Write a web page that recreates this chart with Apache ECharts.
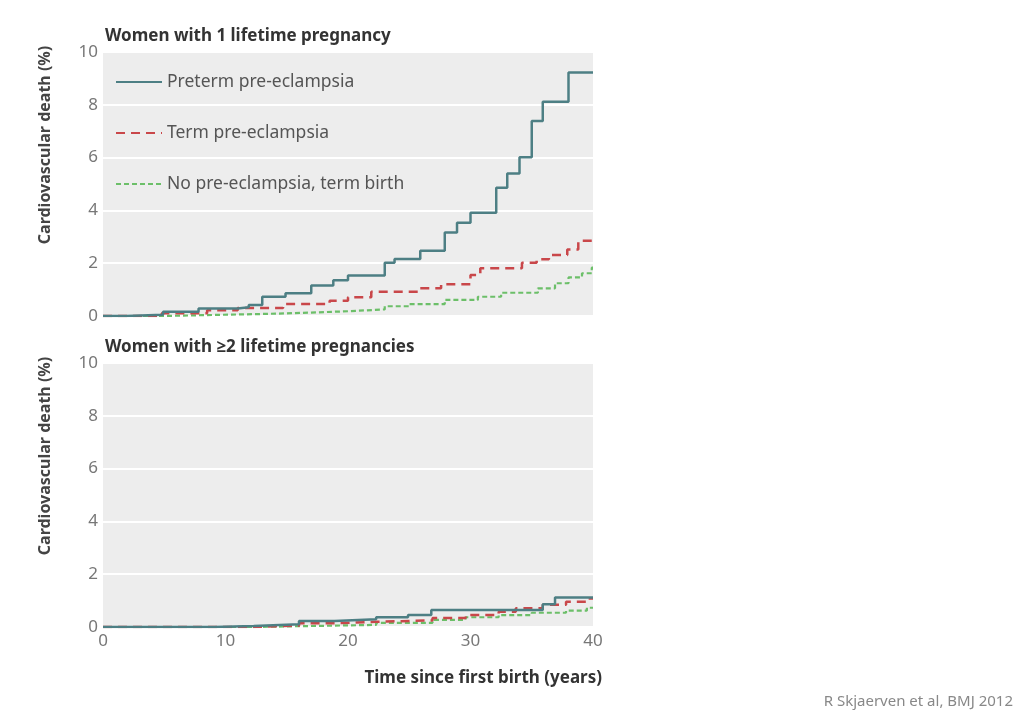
<!DOCTYPE html>
<html>
<head>
<meta charset="utf-8">
<script src="https://cdn.jsdelivr.net/npm/echarts@6/dist/echarts.min.js"></script>
<style>
  html, body { margin: 0; padding: 0; background: #fff; }
  #main { width: 1024px; height: 715px; }
</style>
</head>
<body>
<div id="main"></div>
<script>
// years since first birth on x, cumulative cardiovascular death (%) on y
let xTicks = [0, 10, 20, 30, 40];
let yTicks = [0, 2, 4, 6, 8, 10];
let seriesNames = ['Preterm pre-eclampsia', 'Term pre-eclampsia', 'No pre-eclampsia, term birth'];

// women with 1 lifetime pregnancy
let onePreterm = [[0, 0], [1.9, 0.05], [4.9, 0.16], [7.8, 0.28], [11, 0.33], [11.9, 0.42], [13, 0.73], [14.9, 0.86],
  [17, 1.16], [18.8, 1.35], [20, 1.53], [23, 2.02], [23.8, 2.16], [25.9, 2.47], [27.9, 3.16], [28.9, 3.53],
  [30, 3.91], [32.1, 4.86], [33, 5.4], [34, 6.01], [35, 7.39], [35.9, 8.12], [38, 9.22], [40, 9.22]];
let oneTerm = [[0, 0], [4.8, 0.1], [8.5, 0.22], [11, 0.3], [14.7, 0.45], [18.5, 0.58], [20, 0.71], [21.9, 0.92],
  [25.9, 1.05], [27.6, 1.2], [30, 1.55], [30.8, 1.81], [34.2, 2.02], [35.4, 2.15], [36.4, 2.31], [37.9, 2.52],
  [38.8, 2.85], [40, 2.85]];
let oneNone = [[0, 0], [5, 0.03], [8, 0.08], [13.4, 0.13], [17, 0.18], [20, 0.25], [23, 0.37], [25, 0.45],
  [27.9, 0.61], [30.6, 0.73], [32.5, 0.88], [35.5, 1.05], [36.9, 1.24], [38, 1.46], [39.1, 1.62], [39.9, 1.83], [40, 1.83]];

// women with >=2 lifetime pregnancies
let twoPreterm = [[0, 0], [9.1, 0.04], [12.3, 0.1], [16, 0.23], [18.9, 0.29], [22.3, 0.37], [24.9, 0.45],
  [26.8, 0.64], [35, 0.64], [35.9, 0.86], [36.9, 1.12], [40, 1.12]];
let twoTerm = [[0, 0], [12, 0.05], [16, 0.14], [18.8, 0.2], [22.3, 0.25], [26.9, 0.34], [29.6, 0.45],
  [32.3, 0.58], [33.7, 0.71], [35.9, 0.84], [37.8, 0.96], [39.5, 1.08], [40, 1.08]];
let twoNone = [[0, 0], [12, 0.03], [16, 0.08], [22.3, 0.16], [26.9, 0.27], [29.6, 0.37], [32.3, 0.45],
  [35, 0.54], [37.8, 0.62], [39.5, 0.73], [40, 0.75]];

let fontFam = '"Noto Sans", "Open Sans", sans-serif';
let colors = ['#4d7f84', '#c9474a', '#6cbf69'];
let lineStyles = [
  { width: 2.5, type: 'solid' },
  { width: 2.5, type: [9, 6] },
  { width: 2.2, type: [5, 3] }
];

function makeX(idx, showLabels) {
  return {
    type: 'value', gridIndex: idx, min: 0, max: 40, interval: 10,
    axisLine: { show: false }, axisTick: { show: false }, splitLine: { show: false },
    axisLabel: { show: showLabels, color: '#777', fontSize: 17, margin: 6, fontFamily: fontFam }
  };
}
function makeY(idx) {
  return {
    type: 'value', gridIndex: idx, min: 0, max: 10, interval: 2,
    axisLine: { show: false }, axisTick: { show: false },
    splitLine: { show: true, lineStyle: { color: '#ffffff', width: 2 } },
    axisLabel: { color: '#777', fontSize: 17, margin: 5, fontFamily: fontFam }
  };
}
function makeSeries(k, idx, data) {
  return {
    name: seriesNames[k], type: 'line', step: 'end', xAxisIndex: idx, yAxisIndex: idx,
    data: data, symbol: 'none', silent: true, z: 5 - k,
    lineStyle: Object.assign({ color: colors[k] }, lineStyles[k]),
    itemStyle: { color: colors[k] }
  };
}

window.addEventListener('load', function () {
  let chart = echarts.init(document.getElementById('main'));
  let option = {
    animation: false,
    backgroundColor: '#ffffff',
    textStyle: { fontFamily: fontFam },
    title: [
      { text: 'Women with 1 lifetime pregnancy', left: 100, top: 23,
        textStyle: { fontSize: 17, fontWeight: 'bold', color: '#333', fontFamily: fontFam } },
      { text: 'Women with \u22652 lifetime pregnancies', left: 100, top: 334,
        textStyle: { fontSize: 17, fontWeight: 'bold', color: '#333', fontFamily: fontFam } }
    ],
    legend: {
      orient: 'vertical', left: 110, top: 68, itemGap: 33,
      itemWidth: 46, itemHeight: 18,
      data: seriesNames,
      itemStyle: { opacity: 0 },
      textStyle: { color: '#555', fontSize: 17.5, fontFamily: fontFam }
    },
    grid: [
      { left: 103, width: 490, top: 52, height: 264, show: true, backgroundColor: '#ededed', borderWidth: 0 },
      { left: 103, width: 490, top: 363, height: 264, show: true, backgroundColor: '#ededed', borderWidth: 0 }
    ],
    xAxis: [makeX(0, false), makeX(1, true)],
    yAxis: [makeY(0), makeY(1)],
    series: [
      makeSeries(0, 0, onePreterm), makeSeries(1, 0, oneTerm), makeSeries(2, 0, oneNone),
      makeSeries(0, 1, twoPreterm), makeSeries(1, 1, twoTerm), makeSeries(2, 1, twoNone)
    ],
    graphic: [
      { type: 'text', x: 45, y: 145, rotation: Math.PI / 2,
        style: { text: 'Cardiovascular death (%)', fill: '#444', font: 'bold 16px ' + fontFam,
          textAlign: 'center', textVerticalAlign: 'middle' } },
      { type: 'text', x: 45, y: 456, rotation: Math.PI / 2,
        style: { text: 'Cardiovascular death (%)', fill: '#444', font: 'bold 16px ' + fontFam,
          textAlign: 'center', textVerticalAlign: 'middle' } },
      { type: 'text', x: 602, y: 678,
        style: { text: 'Time since first birth (years)', fill: '#333', font: 'bold 17px ' + fontFam,
          textAlign: 'right', textVerticalAlign: 'middle' } },
      { type: 'text', x: 1013, y: 702,
        style: { text: 'R Skjaerven et al, BMJ 2012', fill: '#888', font: '15px ' + fontFam,
          textAlign: 'right', textVerticalAlign: 'middle' } }
    ]
  };
  chart.setOption(option);
}, false);
</script>
</body>
</html>
